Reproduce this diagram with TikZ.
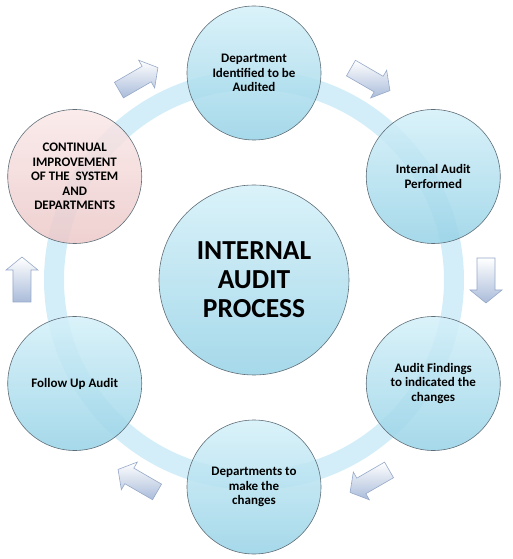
\documentclass[tikz,border=0pt]{standalone}
\usepackage{fontspec}
\setmainfont{Carlito}
\begin{document}
\begin{tikzpicture}[x=1pt,y=1pt,
  stage/.style={circle, draw={rgb,255:red,95;green,110;blue,120}, line width=0.6pt,
    minimum size=134pt, inner sep=0pt, align=center, font=\bfseries\fontsize{13}{14.5}\selectfont,
    top color={rgb,255:red,212;green,240;blue,249}, bottom color={rgb,255:red,150;green,210;blue,230},
    fill opacity=0.85, text opacity=1},
  pinkstage/.style={stage, top color={rgb,255:red,250;green,232;blue,232}, bottom color={rgb,255:red,236;green,200;blue,200}},
  hub/.style={stage, minimum size=190pt, font=\bfseries\fontsize{27.5}{29}\selectfont},
  arr/.style={draw={rgb,255:red,150;green,168;blue,200}, line width=0.6pt, line join=miter,
    top color=white, bottom color={rgb,255:red,170;green,188;blue,218}}
]
\useasboundingbox (-254,-279) rectangle (258,280);
% ring
\draw[line width=20pt, color={rgb,255:red,212;green,238;blue,249}] (0,0) circle (200);
% nodes
\node[hub] (hub) at (0,0) {INTERNAL\\AUDIT\\PROCESS};
\node[stage] (s1) at (90:207) {Department\\Identified to be\\Audited};
\node[stage] (s2) at (30:207) {Internal Audit\\Performed};
\node[stage] (s3) at (-30:207) {Audit Findings\\to indicated the\\changes};
\node[stage] (s4) at (-90:207) {Departments to\\make the\\changes};
\node[stage] (s5) at (-150:207) {Follow Up Audit};
\node[pinkstage] (s6) at (150:207) {CONTINUAL\\IMPROVEMENT\\OF THE\ \ SYSTEM\\AND\\DEPARTMENTS};
% block arrows
\newcommand{\blockarr}[1]{%
  \begin{scope}[shift={(#1:232)}, rotate=#1-90]
    \path[arr] (-22,-9) -- (10,-9) -- (10,-16) -- (23,0) -- (10,16) -- (10,9) -- (-22,9) -- cycle;
  \end{scope}}
\blockarr{60}
\blockarr{0}
\blockarr{-60}
\blockarr{-120}
\blockarr{180}
\blockarr{120}
\end{tikzpicture}
\end{document}
